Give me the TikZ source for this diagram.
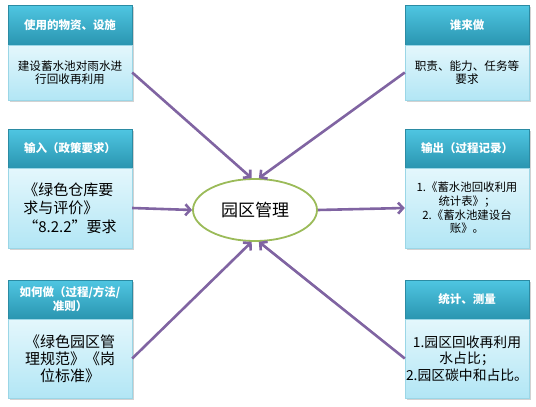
\documentclass[tikz,border=0pt]{standalone}
\usepackage{fontspec}
\setmainfont{Noto Sans CJK SC}
\usetikzlibrary{arrows.meta,shadows,shapes.geometric}
\definecolor{hdtop}{HTML}{4FC6E2}
\definecolor{hdbot}{HTML}{2A95B0}
\definecolor{hdline}{HTML}{2B8BA3}
\definecolor{bdtop}{HTML}{E4F7FC}
\definecolor{bdbot}{HTML}{B2E6F5}
\definecolor{bdline}{HTML}{9BD6E6}
\definecolor{arr}{HTML}{8064A2}
\definecolor{elg}{HTML}{9BBB59}
\begin{document}
\begin{tikzpicture}[x=1pt,y=-1pt,
  box/.style={minimum width=124pt, inner sep=0pt, align=center,
    drop shadow={shadow xshift=1.5pt, shadow yshift=-1.5pt, opacity=0.35}},
  hd/.style={box, text=white, font=\bfseries\fontsize{11.5}{14}\selectfont,
    top color=hdtop, bottom color=hdbot, draw=hdline, line width=0.4pt},
  bd/.style={box, text=black, top color=bdtop, bottom color=bdbot,
    draw=bdline, line width=0.4pt},
  conn/.style={draw=arr, line width=2.6pt,
    -{Straight Barb[length=5pt,width=11pt]}},
  hub/.style={ellipse, draw=elg, line width=1.8pt, fill=white,
    minimum width=124pt, minimum height=62pt, inner sep=0pt,
    font=\fontsize{17}{20}\selectfont}]
\useasboundingbox[fill=white] (0,0) rectangle (536,407);

% row 1
\node[hd, minimum height=40pt] (h1) at (70,25) {使用的物资、设施};
\node[bd, minimum height=55pt, font=\fontsize{11.6}{12.5}\selectfont] (b1) at (70,72.5)
  {建设蓄水池对雨水进\\行回收再利用};
\node[hd, minimum height=40pt] (h2) at (467,25) {谁来做};
\node[bd, minimum height=55pt, font=\fontsize{11.6}{12.5}\selectfont] (b2) at (467,72.5)
  {职责、能力、任务等\\要求};

% row 2
\node[hd, minimum height=39pt] (h3) at (70,148.5) {输入（政策要求）};
\node[bd, minimum height=80pt, align=left, font=\fontsize{15}{18.5}\selectfont] (b3) at (70,208)
  {《绿色仓库要\\求与评价》\\“8.2.2”要求};
\node[hd, minimum height=39pt] (h4) at (467,148.5) {输出（过程记录）};
\node[bd, minimum height=80pt, font=\fontsize{11.4}{13.7}\selectfont] (b4) at (467,208)
  {1.《蓄水池回收利用\\统计表》；\\2.《蓄水池建设台\\账》。};

% row 3
\node[hd, minimum height=39pt] (h5) at (70,299.5) {如何做（过程/方法/\\准则）};
\node[bd, minimum height=79pt, font=\fontsize{15}{17}\selectfont] (b5) at (70,358.5)
  {《绿色园区管\\理规范》《岗\\位标准》};
\node[hd, minimum height=39pt] (h6) at (467,299.5) {统计、测量};
\node[bd, minimum height=79pt, font=\fontsize{13.8}{16.5}\selectfont] (b6) at (467,358.5)
  {1.园区回收再利用\\水占比；\\2.园区碳中和占比。};

% hub
\node[hub] (c) at (255,210) {园区管理};

% connectors
\draw[conn] (b1.east) -- (c.96);
\draw[conn] (b2.west) -- (c.83);
\draw[conn] (b3.east) -- (c.west);
\draw[conn] (c.east) -- (b4.west);
\draw[conn] (b5.east) -- (c.264);
\draw[conn] (b6.west) -- (c.277);
\end{tikzpicture}
\end{document}
